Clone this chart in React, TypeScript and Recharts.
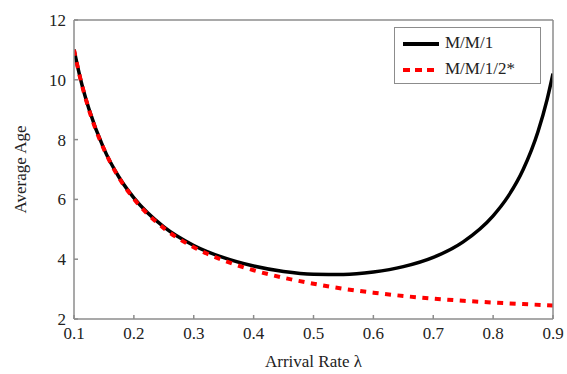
import React from 'react';
import { LineChart, Line, XAxis, YAxis, Legend } from 'recharts';

const lambdaMM1 = [0.1, 0.11, 0.125, 0.15, 0.175, 0.2, 0.25, 0.3, 0.35, 0.4, 0.45, 0.5, 0.55, 0.6, 0.65, 0.7, 0.75, 0.8, 0.825, 0.85, 0.875, 0.89, 0.9];
const ageMM1 = [11.01, 10.1, 9.02, 7.69, 6.75, 6.05, 5.08, 4.46, 4.05, 3.77, 3.59, 3.5, 3.49, 3.57, 3.75, 4.06, 4.58, 5.45, 6.1, 6.99, 8.27, 9.33, 10.21];

const lambdaMM12 = [0.1, 0.11, 0.125, 0.15, 0.175, 0.2, 0.25, 0.3, 0.35, 0.4, 0.45, 0.5, 0.55, 0.6, 0.65, 0.7, 0.75, 0.8, 0.85, 0.9];
const ageMM12 = [11.0, 10.09, 9.0, 7.68, 6.73, 6.02, 5.04, 4.4, 3.96, 3.63, 3.38, 3.18, 3.01, 2.88, 2.77, 2.68, 2.61, 2.55, 2.5, 2.45];

const xTicks = [0.1, 0.2, 0.3, 0.4, 0.5, 0.6, 0.7, 0.8, 0.9];
const yTicks = [2, 4, 6, 8, 10, 12];

const mm1Data = lambdaMM1.map((x, i) => ({ x, y: ageMM1[i] }));
const mm12Data = lambdaMM12.map((x, i) => ({ x, y: ageMM12[i] }));

const FONT = "'Liberation Serif', 'Times New Roman', Tinos, 'DejaVu Serif'";
const FRAME = '#8c8c8c';
const tickStyle = { fontFamily: FONT, fontSize: 17, fill: '#222' };

const LegendBox = () => (
  <div
    style={{
      width: 147,
      height: 57,
      border: `1.5px solid ${FRAME}`,
      background: '#fff',
      boxSizing: 'border-box',
      fontFamily: FONT,
      fontSize: 17,
      color: '#222',
      position: 'relative',
    }}
  >
    <svg width={40} height={57} style={{ position: 'absolute', left: 7, top: 0 }}>
      <line x1={1} x2={37} y1={16} y2={16} stroke="#000" strokeWidth={4} />
      <line x1={1} x2={37} y1={42} y2={42} stroke="#ff0000" strokeWidth={4} strokeDasharray="7 5" />
    </svg>
    <div style={{ position: 'absolute', left: 50, top: 4, lineHeight: '22px' }}>M/M/1</div>
    <div style={{ position: 'absolute', left: 50, top: 30, lineHeight: '22px' }}>M/M/1/2*</div>
  </div>
);

export default function App() {
  return (
    <div style={{ position: 'absolute', left: 0, top: 0, width: 567, height: 374, background: '#fff', fontFamily: FONT }}>
      <LineChart width={567} height={374} margin={{ top: 19, right: 13, bottom: 0, left: 0 }}>
        <XAxis
          dataKey="x"
          type="number"
          domain={[0.1, 0.9]}
          ticks={xTicks}
          allowDataOverflow
          height={55}
          stroke={FRAME}
          strokeWidth={1.5}
          tickSize={-4}
          tickMargin={12}
          tick={tickStyle}
          tickFormatter={(v: number) => v.toFixed(1)}
          label={{
            content: ({ viewBox }: any) => (
              <text
                x={viewBox.x + viewBox.width / 2}
                y={viewBox.y + 42}
                textAnchor="middle"
                dominantBaseline="central"
                fontFamily={FONT}
                fontSize={17}
                fill="#222"
              >
                Arrival Rate λ
              </text>
            ),
          }}
        />
        <XAxis
          xAxisId="top"
          dataKey="x"
          type="number"
          orientation="top"
          domain={[0.1, 0.9]}
          ticks={xTicks}
          height={1}
          stroke={FRAME}
          strokeWidth={1.5}
          tickSize={-4}
          tick={false}
        />
        <YAxis
          type="number"
          domain={[2, 12]}
          ticks={yTicks}
          allowDataOverflow
          width={74}
          stroke={FRAME}
          strokeWidth={1.5}
          tickSize={-4}
          tickMargin={12}
          tick={tickStyle}
          label={{
            content: ({ viewBox }: any) => {
              const cx = 20;
              const cy = viewBox.y + viewBox.height / 2;
              return (
                <text
                  x={cx}
                  y={cy}
                  transform={`rotate(-90, ${cx}, ${cy})`}
                  textAnchor="middle"
                  dominantBaseline="central"
                  fontFamily={FONT}
                  fontSize={17}
                  fill="#222"
                >
                  Average Age
                </text>
              );
            },
          }}
        />
        <YAxis
          yAxisId="right"
          orientation="right"
          domain={[2, 12]}
          ticks={yTicks}
          width={1}
          stroke={FRAME}
          strokeWidth={1.5}
          tickSize={-4}
          tick={false}
        />
        <Line
          data={mm1Data}
          dataKey="y"
          type="monotone"
          stroke="#000"
          strokeWidth={3.5}
          dot={false}
          isAnimationActive={false}
          name="M/M/1"
        />
        <Line
          data={mm12Data}
          dataKey="y"
          type="monotone"
          stroke="#ff0000"
          strokeWidth={4}
          strokeDasharray="6 6.5"
          dot={false}
          isAnimationActive={false}
          name="M/M/1/2*"
        />
        <Legend
          layout="vertical"
          align="center"
          verticalAlign="middle"
          content={() => <LegendBox />}
          wrapperStyle={{ position: 'absolute', left: 394, top: 27, width: 147, height: 57 }}
        />
      </LineChart>
    </div>
  );
}
